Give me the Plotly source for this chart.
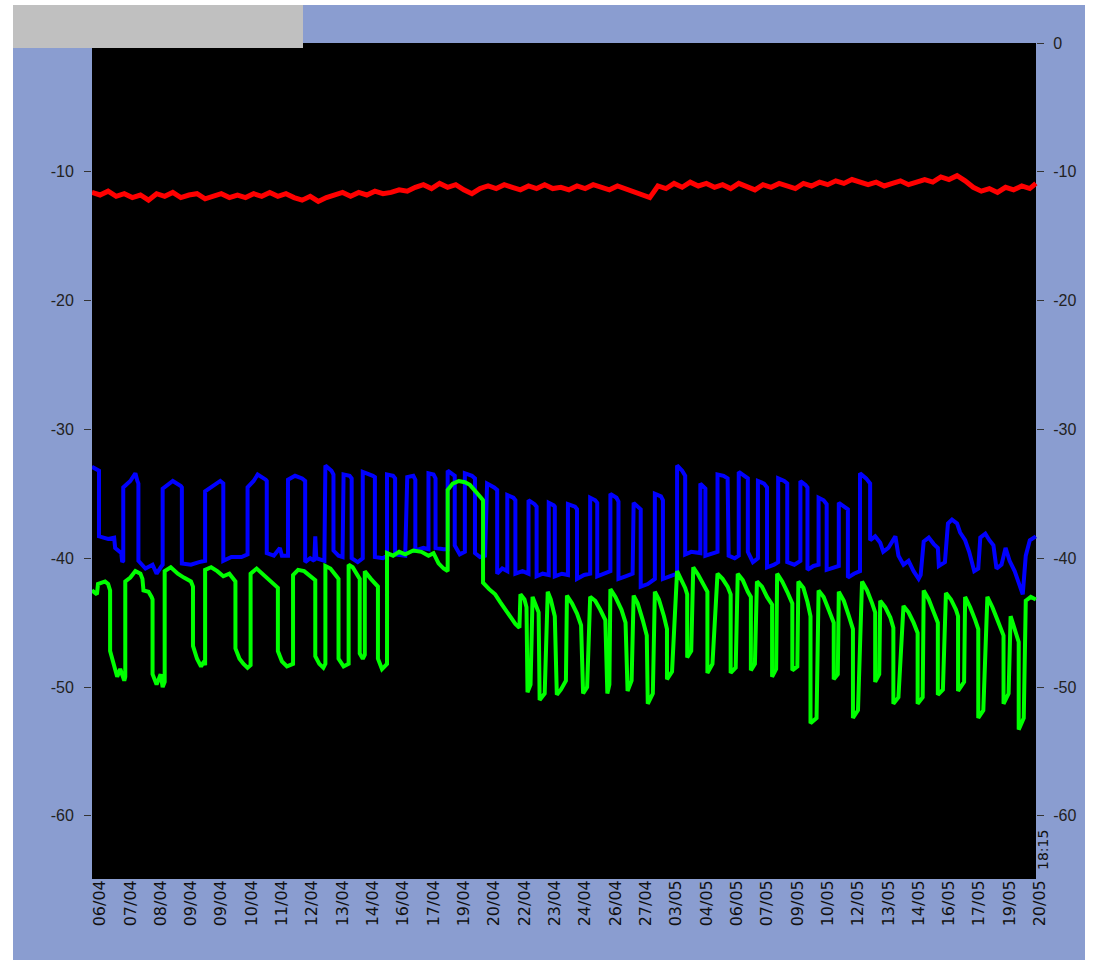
import plotly.graph_objects as go

# ---------------- data ----------------
tick_labels = ["06/04", "07/04", "08/04", "09/04", "09/04", "10/04", "11/04", "12/04",
               "13/04", "14/04", "16/04", "17/04", "19/04", "20/04", "22/04", "23/04",
               "24/04", "26/04", "27/04", "03/05", "04/05", "06/05", "07/05", "09/05",
               "10/05", "12/05", "13/05", "14/05", "16/05", "17/05", "19/05", "20/05"]
samples_per_label = 30
tick_positions = [i * samples_per_label for i in range(len(tick_labels))]
end_time_label = "18:15"

y_left_ticks = [-10, -20, -30, -40, -50, -60]
y_right_ticks = [0, -10, -20, -30, -40, -50, -60]

red_x = list(range(-8, 921, 8)) + [926]
red_y = [-11.6, -11.8, -11.5, -11.9, -11.7, -12.0, -11.8, -12.2, -11.7, -11.9, -11.6, -12.0,
         -11.8, -11.7, -12.1, -11.9, -11.7, -12.0, -11.8, -12.0, -11.7, -11.9, -11.6, -11.9,
         -11.7, -12.0, -12.2, -11.9, -12.3, -12.0, -11.8, -11.6, -11.9, -11.6, -11.8, -11.5,
         -11.7, -11.6, -11.4, -11.5, -11.2, -11.0, -11.3, -10.9, -11.2, -11.0, -11.4, -11.7,
         -11.3, -11.1, -11.3, -11.0, -11.2, -11.4, -11.1, -11.3, -11.0, -11.3, -11.2, -11.4,
         -11.1, -11.3, -11.0, -11.2, -11.4, -11.1, -11.3, -11.5, -11.7, -12.0, -11.1, -11.3,
         -10.9, -11.2, -10.8, -11.1, -10.9, -11.2, -11.0, -11.3, -10.9, -11.2, -11.4, -11.0,
         -11.2, -10.9, -11.1, -11.3, -10.9, -11.1, -10.8, -11.0, -10.7, -10.9, -10.6, -10.8,
         -11.0, -10.8, -11.1, -10.9, -10.7, -11.0, -10.8, -10.6, -10.8, -10.4, -10.6, -10.3,
         -10.7, -11.2, -11.5, -11.3, -11.6, -11.2, -11.4, -11.1, -11.3, -10.9]

blue_pts = [
    (-8, -32.9), (-1, -33.2), (-1, -38.3), (8, -38.5), (14, -38.4), (15, -39.2), (21, -39.6),
    (22, -40.3), (23, -40.2), (23, -34.5), (30, -34.0), (35, -33.4), (37, -34.0), (38, -34.2),
    (38, -40.2), (45, -40.8), (52, -40.5), (56, -41.2), (61, -40.6), (62, -40.5), (62, -34.6),
    (67, -34.3), (72, -34.0), (80, -34.4), (81, -34.5), (81, -40.4), (90, -40.5), (98, -40.3),
    (104, -40.2), (104, -34.8), (112, -34.4), (119, -34.0), (122, -34.2), (122, -40.2),
    (130, -39.9), (140, -39.9), (146, -39.7), (146, -34.5), (152, -34.0), (156, -33.5),
    (164, -33.9), (165, -34.0), (165, -39.6), (172, -39.8), (178, -39.2), (180, -39.8),
    (186, -39.8), (186, -33.9), (193, -33.6), (200, -33.8), (203, -34.0), (203, -40.3),
    (208, -40.0), (212, -40.2), (213, -38.3), (214, -40.0), (222, -40.2), (223, -32.8),
    (229, -33.2), (231, -33.5), (231, -39.4), (236, -39.8), (240, -39.9), (241, -33.5),
    (247, -33.6), (249, -33.8), (249, -40.0), (255, -40.3), (260, -40.0), (260, -33.3),
    (270, -33.6), (272, -33.7), (272, -39.9), (280, -40.0), (284, -39.8), (284, -33.5),
    (290, -33.6), (292, -33.8), (292, -39.7), (302, -39.8), (304, -33.7), (310, -33.6),
    (312, -33.9), (312, -39.4), (320, -39.2), (325, -39.3), (325, -33.4), (330, -33.5),
    (332, -33.8), (332, -39.2), (340, -39.3), (344, -39.3), (344, -33.2), (349, -33.5),
    (351, -33.6), (351, -39.0), (356, -39.7), (361, -39.5), (361, -33.4), (368, -33.6),
    (371, -33.8), (371, -39.6), (376, -39.9), (381, -39.8), (383, -34.2), (390, -34.5),
    (393, -34.7), (393, -41.2), (398, -40.8), (403, -41.0), (403, -35.1), (409, -35.3),
    (411, -35.5), (411, -41.2), (418, -41.0), (424, -41.2), (424, -35.5), (430, -35.8),
    (432, -36.0), (432, -41.4), (438, -41.2), (444, -41.3), (444, -35.7), (449, -35.9),
    (450, -36.0), (450, -41.4), (457, -41.2), (463, -41.3), (463, -35.8), (470, -36.0),
    (472, -36.2), (472, -41.6), (479, -41.3), (485, -41.2), (485, -35.3), (490, -35.5),
    (492, -35.7), (492, -41.4), (499, -41.2), (505, -41.0), (505, -35.0), (511, -35.3),
    (513, -35.6), (513, -41.6), (520, -41.4), (527, -41.2), (528, -35.7), (533, -36.0),
    (535, -36.2), (535, -42.2), (542, -42.0), (549, -41.6), (549, -35.0), (555, -35.2),
    (557, -35.5), (557, -41.6), (564, -41.4), (571, -41.2), (571, -32.8), (576, -33.2),
    (579, -33.6), (579, -39.7), (585, -39.5), (594, -39.6), (594, -34.2), (598, -34.5),
    (599, -34.6), (599, -39.8), (606, -39.6), (611, -39.5), (611, -33.5), (617, -33.6),
    (621, -33.8), (622, -39.8), (628, -40.0), (632, -39.8), (632, -33.3), (638, -33.6),
    (641, -33.8), (641, -39.5), (646, -40.3), (651, -40.0), (651, -34.0), (657, -34.2),
    (660, -34.5), (660, -40.7), (667, -40.5), (671, -40.3), (671, -33.8), (677, -34.0),
    (680, -34.2), (680, -40.3), (687, -40.5), (693, -40.2), (693, -34.0), (698, -34.3),
    (700, -34.5), (700, -40.9), (706, -40.6), (711, -40.5), (711, -35.3), (716, -35.5),
    (719, -35.8), (719, -40.9), (726, -40.7), (731, -40.6), (731, -35.7), (736, -36.0),
    (740, -36.2), (740, -41.5), (746, -41.2), (752, -41.0), (752, -33.4), (758, -33.8),
    (762, -34.2), (762, -38.6), (767, -38.3), (772, -38.8), (775, -39.5), (780, -39.2),
    (785, -38.5), (787, -38.3), (790, -39.8), (795, -40.5), (800, -40.2), (805, -41.0),
    (810, -41.6), (812, -41.3), (815, -38.7), (820, -38.4), (825, -38.9), (829, -39.2),
    (830, -40.6), (836, -40.3), (839, -37.3), (843, -37.0), (848, -37.3), (851, -38.0),
    (856, -38.6), (860, -39.5), (865, -41.0), (869, -40.8), (871, -38.4), (876, -38.1),
    (880, -38.6), (884, -39.0), (887, -40.8), (892, -40.5), (896, -39.2), (900, -40.2),
    (905, -41.0), (910, -42.0), (913, -42.8), (916, -39.8), (920, -38.6), (926, -38.3),
]

green_pts = [
    (-8, -42.5), (-3, -42.8), (-2, -42.0), (5, -41.8), (8, -42.0), (10, -42.5), (10, -47.2),
    (14, -48.5), (17, -49.2), (20, -48.6), (24, -49.5), (25, -49.2), (25, -41.8), (30, -41.5),
    (35, -41.0), (40, -41.2), (42, -41.6), (43, -42.5), (48, -42.6), (51, -43.0), (52, -43.2),
    (52, -49.0), (56, -49.8), (60, -49.0), (62, -50.0), (64, -49.6), (64, -41.0), (70, -40.7),
    (77, -41.2), (83, -41.5), (90, -41.8), (92, -42.2), (92, -46.8), (96, -47.8), (100, -48.4),
    (103, -48.0), (104, -48.3), (104, -40.9), (110, -40.7), (116, -41.0), (122, -41.4),
    (128, -41.2), (134, -41.8), (134, -47.0), (138, -47.8), (142, -48.2), (146, -48.5),
    (149, -48.3), (149, -41.2), (155, -40.8), (162, -41.3), (170, -41.8), (176, -42.3),
    (176, -47.2), (180, -48.0), (185, -48.4), (191, -48.2), (191, -41.3), (196, -40.9),
    (202, -41.0), (208, -41.4), (213, -41.7), (213, -47.6), (217, -48.2), (221, -48.5),
    (223, -48.2), (223, -40.6), (228, -40.8), (234, -41.4), (236, -41.6), (236, -47.8),
    (241, -48.4), (246, -48.2), (246, -40.5), (250, -40.7), (255, -41.3), (257, -41.6),
    (257, -47.4), (260, -47.8), (262, -47.5), (262, -41.0), (268, -41.6), (275, -42.2),
    (275, -47.8), (279, -48.6), (284, -48.2), (284, -39.6), (290, -39.8), (296, -39.5),
    (302, -39.7), (310, -39.4), (318, -39.5), (325, -39.8), (330, -39.6), (335, -40.4),
    (340, -40.8), (344, -41.0), (344, -34.7), (349, -34.2), (355, -34.0), (361, -34.1),
    (366, -34.3), (372, -34.8), (377, -35.3), (379, -35.5), (379, -41.9), (385, -42.4),
    (391, -42.8), (396, -43.4), (401, -44.0), (406, -44.6), (411, -45.1), (415, -45.4),
    (416, -42.8), (420, -43.2), (422, -43.8), (423, -50.4), (426, -49.8), (428, -43.0),
    (432, -43.8), (434, -44.2), (435, -51.0), (440, -50.5), (443, -42.6), (446, -43.2),
    (450, -44.5), (452, -50.6), (456, -50.2), (461, -49.5), (462, -42.9), (467, -43.5),
    (472, -44.3), (476, -45.2), (478, -50.5), (482, -50.0), (485, -43.0), (490, -43.3),
    (495, -44.0), (500, -44.8), (502, -50.5), (504, -49.8), (505, -42.4), (510, -43.0),
    (516, -44.0), (520, -45.0), (522, -50.3), (526, -49.5), (528, -42.9), (532, -43.5),
    (537, -44.8), (541, -46.0), (542, -51.3), (547, -50.5), (549, -42.6), (553, -43.2),
    (558, -44.5), (561, -45.5), (561, -49.4), (566, -48.8), (571, -41.0), (575, -41.6),
    (579, -42.3), (581, -42.8), (581, -47.7), (585, -47.2), (587, -40.7), (592, -41.3),
    (597, -42.0), (601, -42.6), (601, -48.9), (606, -48.2), (611, -41.2), (616, -41.6),
    (621, -42.2), (624, -42.8), (624, -48.9), (629, -48.5), (631, -41.2), (636, -41.7),
    (641, -42.6), (644, -43.0), (644, -48.7), (648, -48.2), (650, -41.8), (655, -42.2),
    (660, -43.0), (665, -43.6), (665, -49.2), (669, -48.6), (670, -41.2), (675, -41.8),
    (680, -42.6), (685, -43.5), (685, -48.7), (690, -48.4), (691, -41.8), (696, -42.3),
    (700, -43.4), (703, -44.5), (703, -52.8), (709, -52.4), (711, -42.5), (716, -43.0),
    (721, -44.0), (726, -45.0), (726, -49.4), (730, -49.0), (731, -42.6), (736, -43.3),
    (741, -44.5), (745, -45.5), (745, -52.4), (750, -51.8), (754, -41.8), (759, -42.5),
    (764, -43.5), (767, -44.2), (767, -49.6), (771, -49.0), (772, -43.3), (777, -43.8),
    (782, -44.6), (785, -45.4), (785, -51.3), (790, -50.8), (795, -43.7), (800, -44.2),
    (805, -45.0), (809, -45.8), (809, -51.3), (814, -50.8), (815, -42.5), (820, -43.2),
    (825, -44.2), (829, -45.0), (829, -50.6), (834, -50.2), (837, -42.7), (842, -43.2),
    (847, -44.0), (849, -44.5), (849, -50.3), (855, -49.6), (856, -43.0), (861, -43.8),
    (866, -44.8), (869, -45.5), (869, -52.4), (874, -51.8), (878, -43.0), (883, -43.8),
    (888, -44.8), (894, -46.0), (894, -51.3), (899, -50.5), (901, -44.5), (905, -45.5),
    (909, -46.5), (909, -53.3), (914, -52.4), (916, -43.3), (921, -43.0), (926, -43.2),
]

blue_x = [p[0] for p in blue_pts]
blue_y = [p[1] for p in blue_pts]
green_x = [p[0] for p in green_pts]
green_y = [p[1] for p in green_pts]

# ---------------- layout geometry (pixels) ----------------
W, H = 1097, 963
PL, PT = 92, 43            # plot left / top
PR_DATA, PB = 1036, 879     # data plot right / bottom
PR_EXT = 1046               # extended area for last tick label
units_per_px = samples_per_label / 30.32
x0 = (PL - 100) * units_per_px
x2 = x0 + (PR_EXT - PL) * units_per_px
Y_RANGE = [-64.9, 0]
pw = PR_EXT - PL
ph = PB - PT


def px_x(p):
    return (p - PL) / pw


def px_y(p):
    return (PB - p) / ph


BG = "#8A9DD0"
TICKFONT = dict(family="Liberation Sans, Arial, sans-serif", size=16, color="#222222")
XFONT = dict(family="DejaVu Sans, sans-serif", size=16, color="#111111")

fig = go.Figure()
fig.add_trace(go.Scatter(x=red_x, y=red_y, mode="lines",
                         line=dict(color="#FF0000", width=5), showlegend=False))
fig.add_trace(go.Scatter(x=blue_x, y=blue_y, mode="lines",
                         line=dict(color="#0000FF", width=4), showlegend=False))
fig.add_trace(go.Scatter(x=green_x, y=green_y, mode="lines",
                         line=dict(color="#00FF00", width=4), showlegend=False))
# helper trace so the right axis renders
fig.add_trace(go.Scatter(x=[None], y=[None], xaxis="x", yaxis="y2", showlegend=False,
                         hoverinfo="skip"))

fig.update_layout(
    width=W, height=H,
    margin=dict(l=PL, r=W - PR_EXT, t=PT, b=H - PB, pad=0),
    paper_bgcolor="white",
    plot_bgcolor="rgba(0,0,0,0)",
    showlegend=False,
    xaxis=dict(domain=[0, 1], range=[x0, x2],
               tickmode="array", tickvals=tick_positions, ticktext=tick_labels,
               tickangle=-90, ticks="", showgrid=False, zeroline=False, showline=False,
               tickfont=XFONT, ticklabelstandoff=-3),
    yaxis=dict(range=Y_RANGE, tickmode="array", tickvals=y_left_ticks,
               ticktext=[str(v) for v in y_left_ticks], ticks="outside", ticklen=7,
               tickcolor="#333333", tickwidth=1, showgrid=False, zeroline=False,
               showline=False, tickfont=TICKFONT, ticklabelstandoff=7),
    yaxis2=dict(range=Y_RANGE, overlaying="y", side="right", anchor="free",
                position=px_x(PR_DATA), tickmode="array",
                tickvals=y_right_ticks, ticktext=[str(v) for v in y_right_ticks],
                ticks="outside", ticklen=7, tickcolor="#333333", tickwidth=1,
                showgrid=False, zeroline=False, showline=False, tickfont=TICKFONT,
                ticklabelstandoff=6),
    shapes=[
        dict(type="rect", xref="paper", yref="paper", layer="below",
             x0=px_x(13), x1=px_x(1085), y0=px_y(960), y1=px_y(5),
             fillcolor=BG, line=dict(width=0)),
        dict(type="rect", xref="paper", yref="paper", layer="below",
             x0=0, x1=px_x(PR_DATA), y0=0, y1=1,
             fillcolor="black", line=dict(width=0)),
        dict(type="rect", xref="paper", yref="paper", layer="above",
             x0=px_x(13), x1=px_x(303), y0=px_y(48), y1=px_y(5),
             fillcolor="#C0C0C0", line=dict(width=0)),
    ],
    annotations=[
        dict(text=end_time_label, xref="paper", yref="paper", x=px_x(1043), y=px_y(850),
             xanchor="center", yanchor="middle", textangle=-90, showarrow=False,
             font=dict(family="DejaVu Sans, sans-serif", size=14, color="#111111")),
    ],
)

fig.write_html("out.html", config={"displayModeBar": False},
               post_script="document.body.style.margin='0px';")
